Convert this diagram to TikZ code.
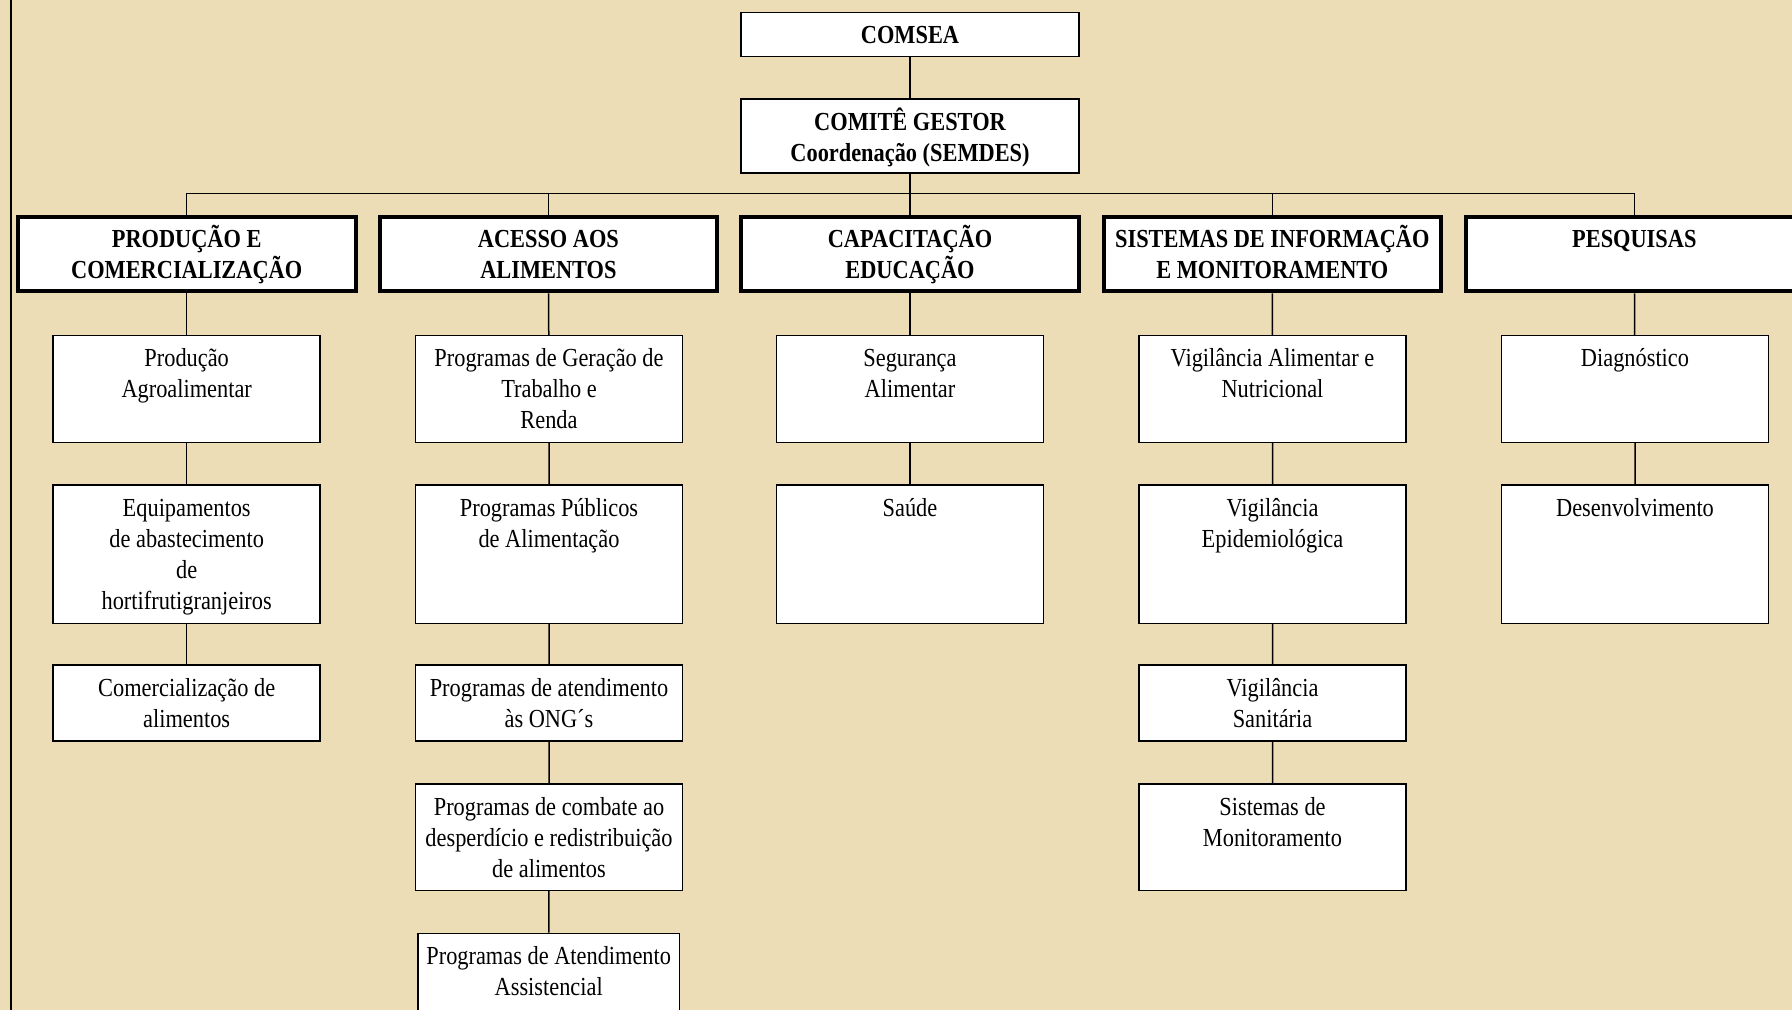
\documentclass[tikz,border=0pt]{standalone}
\usepackage{fontspec}
\setmainfont{Liberation Serif}[FakeStretch=0.86]
\usepackage{tikz}
\definecolor{parch}{RGB}{236,221,183}

\begin{document}
\begin{tikzpicture}[x=0.5pt,y=-0.5pt,
  every node/.style={font=\fontsize{13}{15.5}\selectfont},
  headbox/.style={draw,fill=white,line width=0.8pt,anchor=north,inner xsep=2pt,inner ysep=0pt,
    text width=164.9pt,align=flush center,text height=15.5pt,font=\bfseries\fontsize{13}{15.5}\selectfont},
  areabox/.style={headbox,line width=2pt,text width=164.8pt,text depth=21.65pt},
  itembox/.style={draw,fill=white,line width=0.75pt,anchor=north,inner xsep=2pt,inner ysep=0pt,
    text width=129.5pt,align=flush center,text height=15.5pt,text depth=#1},
  link/.style={line width=0.75pt}]
\useasboundingbox (0,0) rectangle (1792,1010);
\fill[parch] (0,0) rectangle (1792,1010);
\draw[line width=1pt] (11,0) -- (11,1010);

\node[headbox,text depth=6.5pt] (comsea) at (910,11.7) {COMSEA};
\node[headbox,text depth=21.55pt] (gestor) at (910,98.3) {COMITÊ GESTOR\\Coordenação (SEMDES)};
\coordinate (bus) at (910,193.3);

\node[areabox] (prod) at (186.7,215) {PRODUÇÃO E\\COMERCIALIZAÇÃO};
\node[areabox] (acesso) at (548.4,215) {ACESSO AOS\\ALIMENTOS};
\node[areabox] (capac) at (910,215) {CAPACITAÇÃO\\EDUCAÇÃO};
\node[areabox] (sist) at (1272.3,215) {SISTEMAS DE INFORMAÇÃO\\E MONITORAMENTO};
\node[areabox] (pesq) at (1634.3,215) {PESQUISAS};

\node[itembox=37.75pt] (prodA) at (186.7,335) {Produção\\Agroalimentar};
\node[itembox=53.6pt] (prodB) at (186.7,484.3) {Equipamentos\\de abastecimento\\de\\hortifrutigranjeiros};
\node[itembox=22.45pt] (prodC) at (186.7,664.3) {Comercialização de\\alimentos};

\node[itembox=37.75pt] (aceA) at (549,335) {Programas de Geração de\\Trabalho e\\Renda};
\node[itembox=53.6pt] (aceB) at (549,484.3) {Programas Públicos\\de Alimentação};
\node[itembox=22.45pt] (aceC) at (549,664.3) {Programas de atendimento\\às ONG´s};
\node[itembox=37.6pt] (aceD) at (549,783.3) {Programas de combate ao\\desperdício e redistribuição\\de alimentos};
\node[itembox=29.5pt,text width=126.6pt] (aceE) at (548.7,932.5) {Programas de Atendimento\\Assistencial};

\node[itembox=37.75pt] (capA) at (910,335) {Segurança\\Alimentar};
\node[itembox=53.6pt] (capB) at (910,484.3) {Saúde};

\node[itembox=37.75pt] (sisA) at (1272.5,335) {Vigilância Alimentar e\\Nutricional};
\node[itembox=53.6pt] (sisB) at (1272.5,484.3) {Vigilância\\Epidemiológica};
\node[itembox=22.45pt] (sisC) at (1272.5,664.3) {Vigilância\\Sanitária};
\node[itembox=37.6pt] (sisD) at (1272.5,783.3) {Sistemas de\\Monitoramento};

\node[itembox=37.75pt] (pesA) at (1635,335) {Diagnóstico};
\node[itembox=53.6pt] (pesB) at (1635,484.3) {Desenvolvimento};

\draw[link] (comsea) -- (gestor);
\draw[link] (gestor) -- (bus);
\foreach \n in {prod,acesso,capac,sist,pesq}
  \draw[link] (bus) -| (\n);
\draw[link] (prod) -- (prodA) (prodA) -- (prodB) (prodB) -- (prodC);
\draw[link] (acesso) -- (aceA) (aceA) -- (aceB) (aceB) -- (aceC) (aceC) -- (aceD) (aceD) -- (aceE);
\draw[link] (capac) -- (capA) (capA) -- (capB);
\draw[link] (sist) -- (sisA) (sisA) -- (sisB) (sisB) -- (sisC) (sisC) -- (sisD);
\draw[link] (pesq) -- (pesA) (pesA) -- (pesB);
\end{tikzpicture}
\end{document}
